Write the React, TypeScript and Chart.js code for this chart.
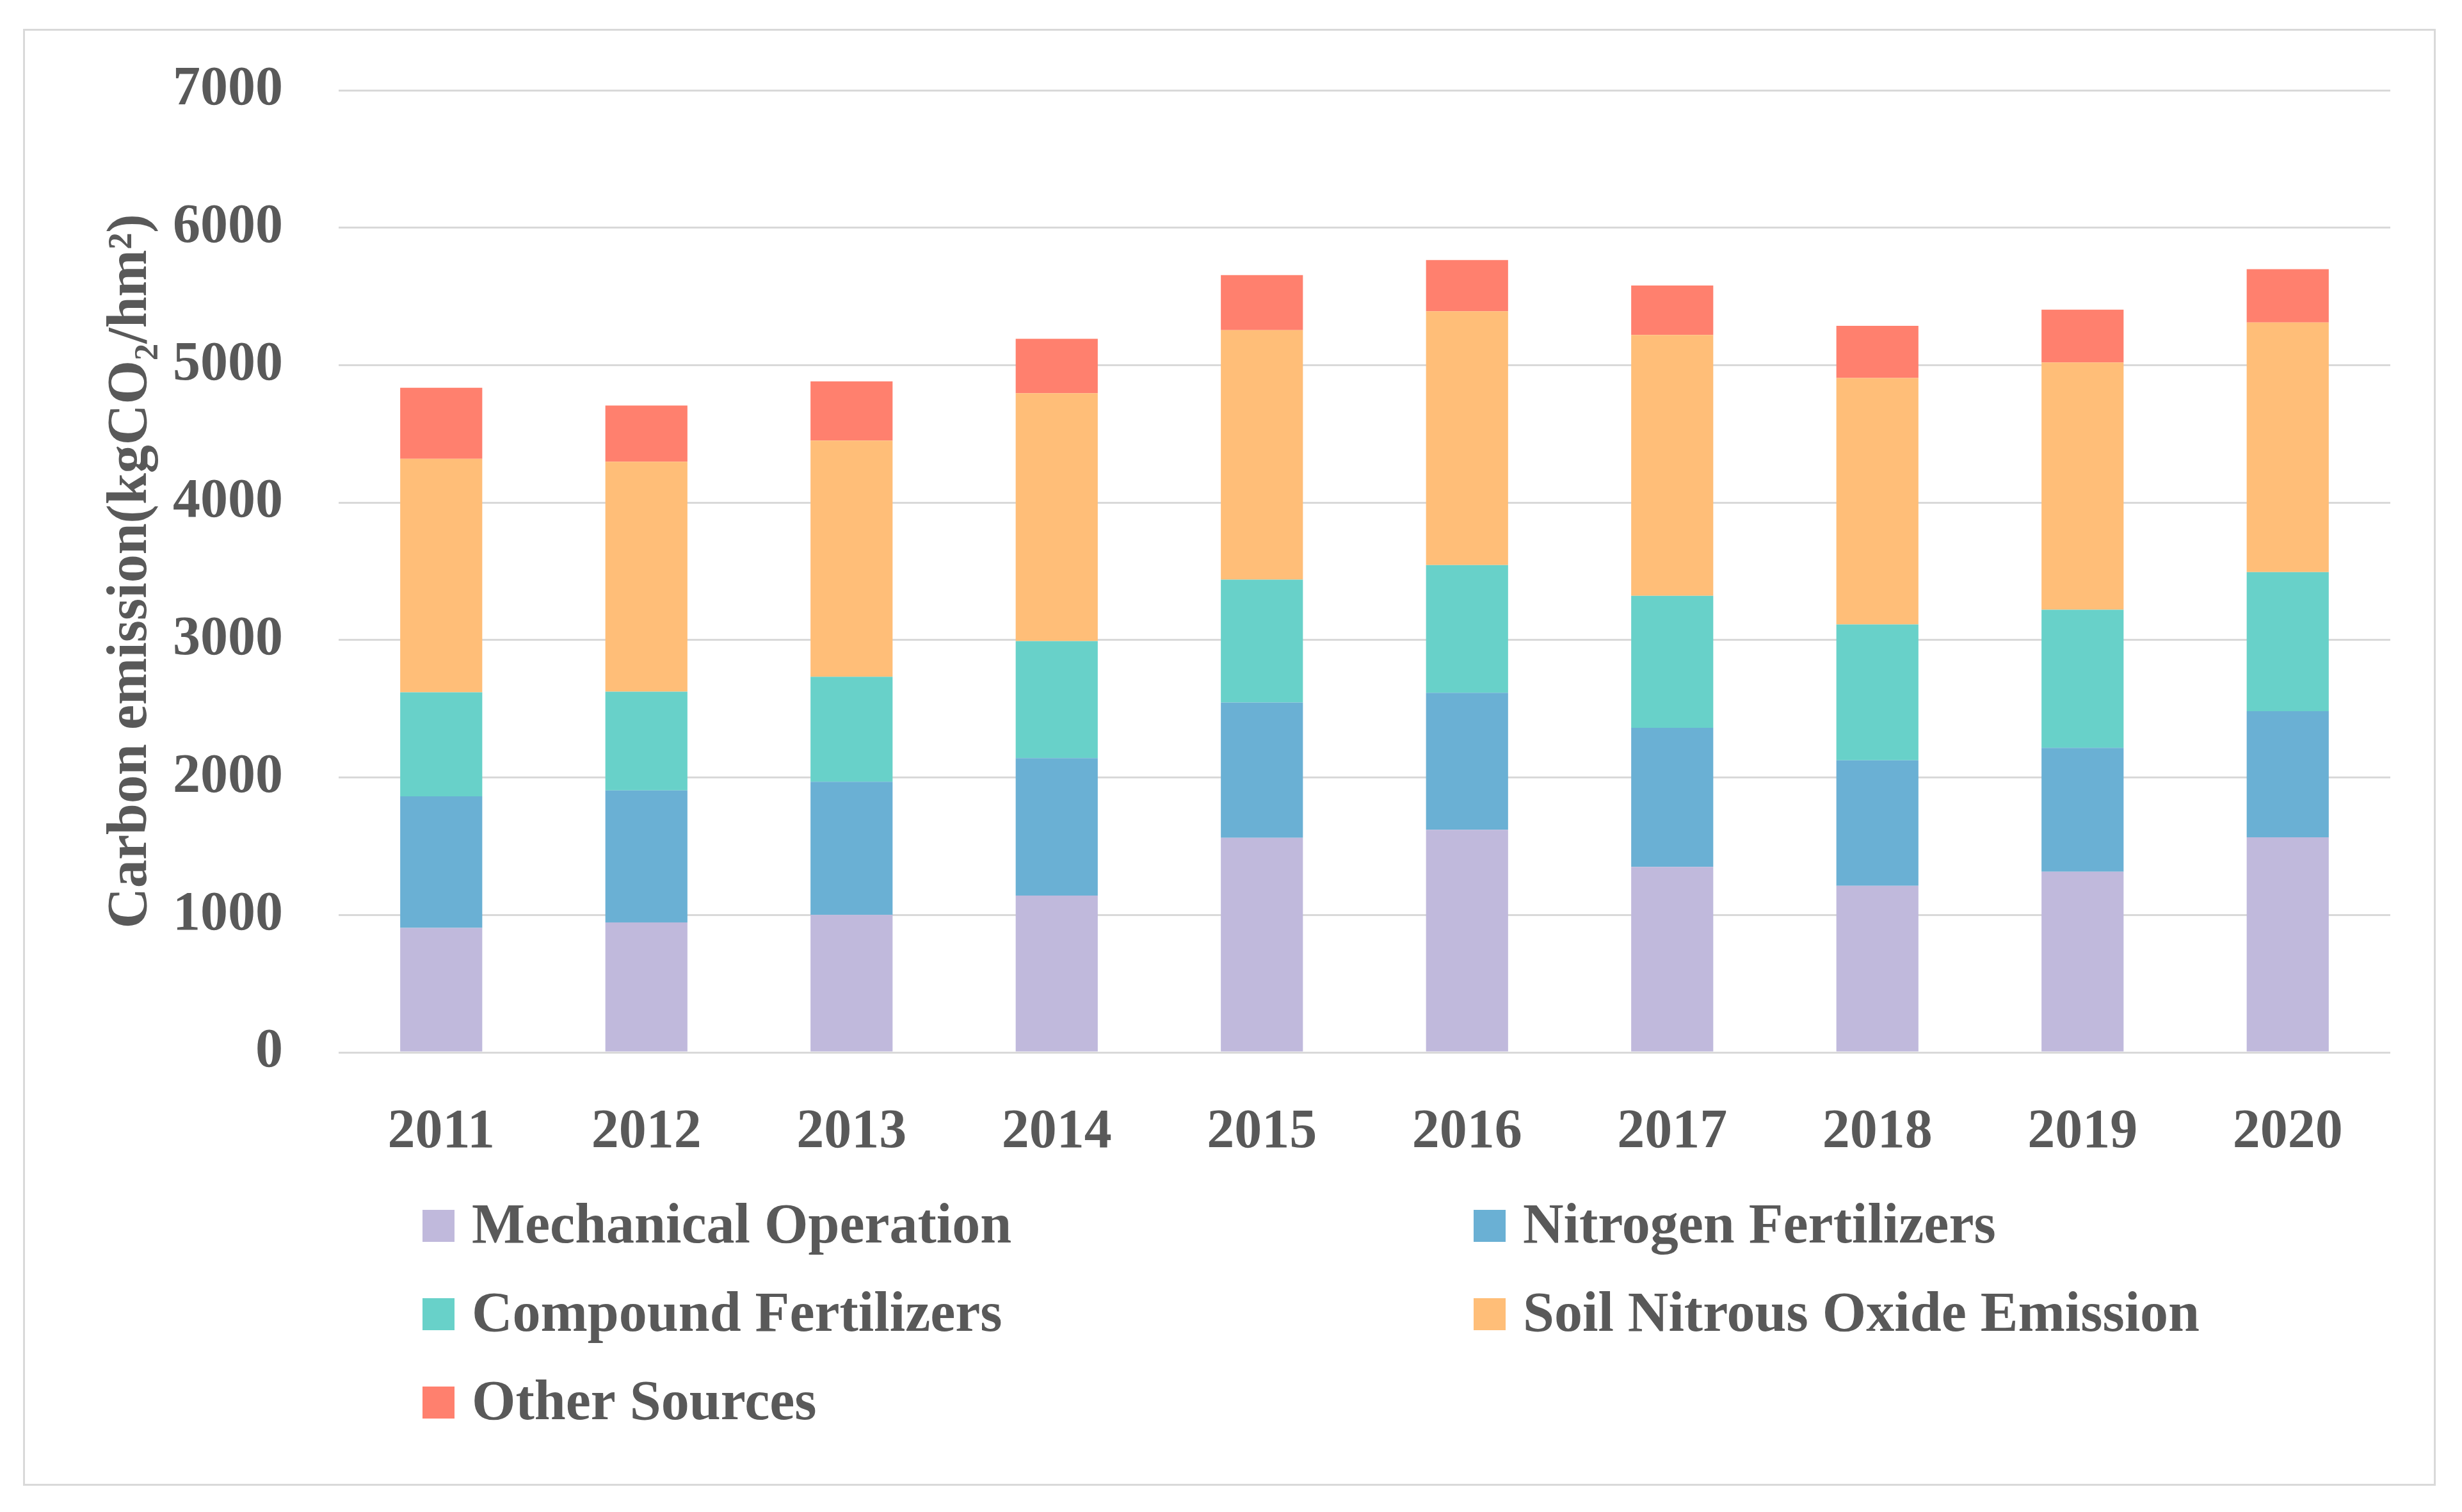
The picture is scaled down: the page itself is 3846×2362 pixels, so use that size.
import React, { useEffect, useRef } from "react";
import { Chart, registerables } from "chart.js";

Chart.register(...registerables);

const years = ["2011", "2012", "2013", "2014", "2015", "2016", "2017", "2018", "2019", "2020"];
const mechanicalOperation = [906, 945, 1000, 1141, 1561, 1620, 1349, 1212, 1314, 1565];
const nitrogenFertilizers = [957, 961, 969, 1000, 984, 996, 1012, 913, 902, 917];
const compoundFertilizers = [757, 718, 764, 851, 894, 929, 961, 989, 1004, 1012];
const soilNitrousOxide = [1698, 1674, 1718, 1804, 1816, 1847, 1898, 1792, 1800, 1816];
const otherSources = [517, 408, 431, 396, 400, 373, 360, 380, 384, 388];

const seriesNames = [
  "Mechanical Operation",
  "Nitrogen Fertilizers",
  "Compound Fertilizers",
  "Soil Nitrous Oxide Emission",
  "Other Sources",
];
const seriesColors = ["#C0B9DC", "#6AB0D4", "#68D1C9", "#FFBE78", "#FF806E"];

const yMin = 0;
const yMax = 7000;
const yStep = 1000;
const yTitle = "Carbon emission(kgCO\u2082/hm\u00B2)";

const FONT = "'Liberation Serif', 'Times New Roman', serif";
const TEXT = "#595959";

const gridLegend = {
  id: "gridLegend",
  afterDraw(chart: any) {
    const { ctx, chartArea } = chart;
    ctx.save();
    ctx.font = `bold 88px ${FONT}`;
    ctx.textBaseline = "middle";
    ctx.textAlign = "left";
    chart.data.datasets.forEach((ds: any, i: number) => {
      const col = i % 2;
      const row = Math.floor(i / 2);
      const x = chartArea.left + (col === 0 ? 131 : 1773);
      const y = chartArea.bottom + 271 + row * 138;
      ctx.fillStyle = ds.backgroundColor;
      ctx.fillRect(x, y - 25, 50, 50);
      ctx.fillStyle = TEXT;
      ctx.fillText(ds.label, x + 77, y + 3);
    });
    ctx.restore();
  },
};

export default function App() {
  const canvasRef = useRef<HTMLCanvasElement | null>(null);

  useEffect(() => {
    if (!canvasRef.current) return;
    const series = [
      mechanicalOperation,
      nitrogenFertilizers,
      compoundFertilizers,
      soilNitrousOxide,
      otherSources,
    ];
    const chart = new Chart(canvasRef.current, {
      type: "bar",
      data: {
        labels: years,
        datasets: series.map((d, i) => ({
          label: seriesNames[i],
          data: d,
          backgroundColor: seriesColors[i],
          borderWidth: 0,
          barPercentage: 0.4,
          categoryPercentage: 1.0,
        })),
      },
      options: {
        animation: false,
        responsive: true,
        maintainAspectRatio: false,
        devicePixelRatio: 1,
        layout: { padding: { top: 141, right: 112, bottom: 560, left: 0 } },
        plugins: {
          legend: { display: false },
          tooltip: { enabled: false },
        },
        scales: {
          x: {
            stacked: true,
            grid: { display: false },
            border: { display: false },
            ticks: {
              color: TEXT,
              font: { family: FONT, size: 86, weight: "bold" },
              padding: 66,
              maxRotation: 0,
            },
            afterFit: (s: any) => {
              s.height = 158;
            },
          },
          y: {
            stacked: true,
            min: yMin,
            max: yMax,
            grid: { color: "#D9D9D9", lineWidth: 3, drawTicks: false },
            border: { display: false },
            ticks: {
              stepSize: yStep,
              color: TEXT,
              font: { family: FONT, size: 86, weight: "bold" },
              padding: 87,
              callback: (v: any) => String(v),
            },
            title: {
              display: true,
              text: yTitle,
              color: TEXT,
              font: { family: FONT, size: 88, weight: "bold" },
              padding: { top: 152, bottom: 0 },
            },
            afterFit: (s: any) => {
              s.width = 529;
            },
          },
        },
      },
      plugins: [gridLegend],
    } as any);
    return () => chart.destroy();
  }, []);

  return (
    <div
      style={{
        position: "fixed",
        left: 0,
        top: 0,
        width: 3846,
        height: 2362,
        background: "#FFFFFF",
      }}
    >
      <div
        style={{
          position: "absolute",
          left: 36,
          top: 45,
          width: 3769,
          height: 2276,
          border: "3px solid #D9D9D9",
          boxSizing: "border-box",
        }}
      />
      <div style={{ position: "absolute", left: 0, top: 0, width: 3846, height: 2362 }}>
        <canvas ref={canvasRef} />
      </div>
    </div>
  );
}
